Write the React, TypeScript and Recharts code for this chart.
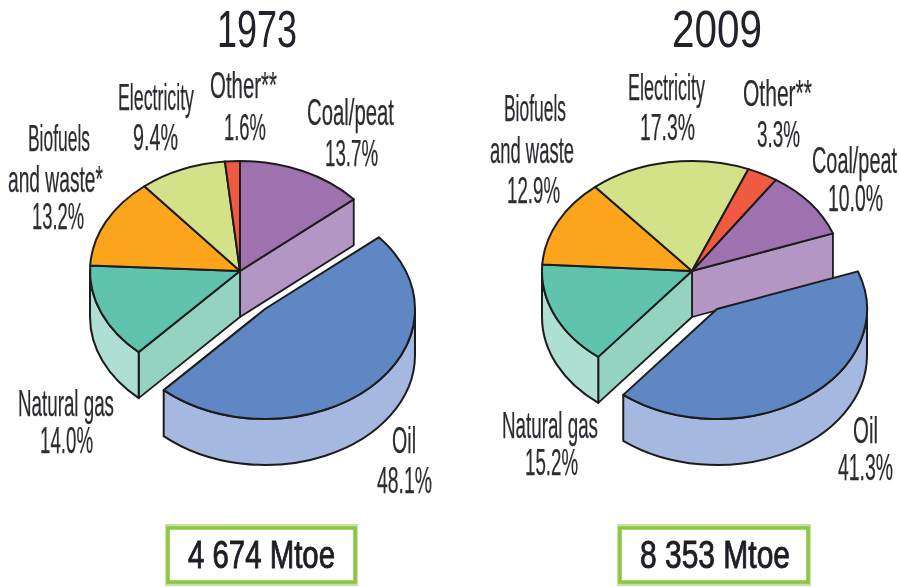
import React from 'react';
import { PieChart, Pie } from 'recharts';

const fuels = ['Coal/peat', 'Oil', 'Natural gas', 'Biofuels and waste', 'Electricity', 'Other'];
const shares1973 = [13.7, 48.1, 14.0, 13.2, 9.4, 1.6];
const shares2009 = [10.0, 41.3, 15.2, 12.9, 17.3, 3.3];
const totals = ['4 674 Mtoe', '8 353 Mtoe'];
const years = ['1973', '2009'];

const topColors: Record<string, string> = {
  'Coal/peat': '#9d72ae', Oil: '#5e87c3', 'Natural gas': '#5fc3ad',
  'Biofuels and waste': '#fca51c', Electricity: '#d3e288', Other: '#f05a40',
};
const wallColors: Record<string, string> = {
  'Coal/peat': '#b396c3', Oil: '#a5b8df', 'Natural gas': '#94d3c0',
  'Biofuels and waste': '#fcc56f', Electricity: '#e2eeb0', Other: '#f59a88',
};
const rimColors: Record<string, string> = { ...wallColors, 'Natural gas': '#addfd2' };

const data1973 = fuels.map((name, i) => ({ name, value: shares1973[i] }));
const data2009 = fuels.map((name, i) => ({ name, value: shares2009[i] }));

const SQUASH = 110 / 150;
const DEPTH = 46;
const INK = '#1c1c1c';
const RAD = Math.PI / 180;
const EXPLODE = { dx: 25, dy: 38 };

const point = (cx: number, cy: number, r: number, t: number, drop = 0) => ({
  x: cx + r * Math.cos(t * RAD),
  y: cy - r * SQUASH * Math.sin(t * RAD) + drop,
});
const f = (n: number) => n.toFixed(2);
const nameOf = (p: any) => p.name ?? p.payload?.name;

function centre(p: any) {
  const oil = nameOf(p) === 'Oil';
  return { cx: p.cx + (oil ? EXPLODE.dx : 0), cy: p.cy + (oil ? EXPLODE.dy : 0), oil };
}

function TopSlice(p: any) {
  const { cx, cy } = centre(p);
  const r = p.outerRadius;
  const a = point(cx, cy, r, p.startAngle);
  const b = point(cx, cy, r, p.endAngle);
  const large = Math.abs(p.startAngle - p.endAngle) > 180 ? 1 : 0;
  const d = `M${f(cx)} ${f(cy)}L${f(a.x)} ${f(a.y)}A${r} ${f(r * SQUASH)} 0 ${large} 1 ${f(b.x)} ${f(b.y)}Z`;
  return <path d={d} fill={topColors[nameOf(p)]} stroke={INK} strokeWidth={2} strokeLinejoin="round" />;
}

function WallSlice(p: any) {
  const { cx, cy } = centre(p);
  const r = p.outerRadius;
  const name = nameOf(p);
  const parts: React.ReactNode[] = [];
  // only the two cut faces left open by the exploded Oil slice can be seen
  const cut = name === 'Coal/peat' ? p.endAngle : name === 'Natural gas' ? p.startAngle : null;
  if (cut !== null) {
    const o = point(cx, cy, r, cut);
    parts.push(
      <path
        key="cut"
        d={`M${f(cx)} ${f(cy)}L${f(o.x)} ${f(o.y)}L${f(o.x)} ${f(o.y + DEPTH)}L${f(cx)} ${f(cy + DEPTH)}Z`}
        fill={wallColors[name]}
        stroke={INK}
        strokeWidth={1.8}
        strokeLinejoin="round"
      />,
    );
  }
  const hi = Math.min(p.startAngle, 0);
  const lo = Math.max(p.endAngle, -180);
  if (hi > lo) {
    const a = point(cx, cy, r, hi);
    const b = point(cx, cy, r, lo);
    const ry = f(r * SQUASH);
    parts.push(
      <path
        key="rim"
        d={`M${f(a.x)} ${f(a.y)}A${r} ${ry} 0 0 1 ${f(b.x)} ${f(b.y)}L${f(b.x)} ${f(b.y + DEPTH)}A${r} ${ry} 0 0 0 ${f(a.x)} ${f(a.y + DEPTH)}Z`}
        fill={rimColors[name]}
        stroke={INK}
        strokeWidth={2}
        strokeLinejoin="round"
      />,
    );
  }
  return <g>{parts}</g>;
}

const pct = (v: number) => `${v.toFixed(1)}%`;

type Placed = { text: string; x1: number; x2: number; y: number };
const labels: Placed[] = [
  { text: fuels[4], x1: 118, x2: 194, y: 110 },
  { text: pct(shares1973[4]), x1: 133, x2: 178, y: 150 },
  { text: 'Other**', x1: 210, x2: 277, y: 98 },
  { text: pct(shares1973[5]), x1: 224, x2: 266, y: 140 },
  { text: fuels[0], x1: 307, x2: 394, y: 125 },
  { text: pct(shares1973[0]), x1: 325, x2: 378, y: 166 },
  { text: 'Biofuels', x1: 28, x2: 90, y: 151 },
  { text: 'and waste*', x1: 8, x2: 103, y: 192 },
  { text: pct(shares1973[3]), x1: 32, x2: 84, y: 229 },
  { text: fuels[2], x1: 18, x2: 114, y: 416 },
  { text: pct(shares1973[2]), x1: 40, x2: 93, y: 453 },
  { text: fuels[1], x1: 392, x2: 416, y: 453 },
  { text: pct(shares1973[1]), x1: 377, x2: 432, y: 493 },

  { text: fuels[4], x1: 628, x2: 705, y: 100 },
  { text: pct(shares2009[4]), x1: 640, x2: 695, y: 140 },
  { text: 'Other**', x1: 743, x2: 812, y: 106 },
  { text: pct(shares2009[5]), x1: 757, x2: 800, y: 147 },
  { text: fuels[0], x1: 812, x2: 897, y: 173 },
  { text: pct(shares2009[0]), x1: 828, x2: 883, y: 211 },
  { text: 'Biofuels', x1: 504, x2: 566, y: 121 },
  { text: 'and waste', x1: 490, x2: 574, y: 163 },
  { text: pct(shares2009[3]), x1: 507, x2: 560, y: 203 },
  { text: fuels[2], x1: 502, x2: 598, y: 438 },
  { text: pct(shares2009[2]), x1: 525, x2: 578, y: 475 },
  { text: fuels[1], x1: 853, x2: 878, y: 443 },
  { text: pct(shares2009[1]), x1: 838, x2: 893, y: 480 },
];

const FONT = '"Liberation Sans Narrow", "Liberation Sans", Arial, sans-serif';

function Fit({ t, size, heavy, fill }: { t: Placed; size: number; heavy?: number; fill?: string }) {
  return (
    <text
      x={t.x1}
      y={t.y}
      fontSize={size}
      fontFamily={FONT}
      fill={fill ?? '#2b2b33'}
      stroke={heavy ? (fill ?? '#2b2b33') : 'none'}
      strokeWidth={heavy ?? 0}
      textLength={t.x2 - t.x1}
      lengthAdjust="spacingAndGlyphs"
    >
      {t.text}
    </text>
  );
}

function Box({ x, w, text, tx1, tx2 }: { x: number; w: number; text: string; tx1: number; tx2: number }) {
  return (
    <g>
      <rect x={x} y={527} width={w} height={56} fill="#fff" stroke="#c4e0a4" strokeWidth={6} />
      <rect x={x} y={528} width={w} height={54} fill="#fff" stroke="#8cc540" strokeWidth={3.5} />
      <Fit t={{ text, x1: tx1, x2: tx2, y: 568 }} size={38} heavy={0.9} fill="#1d1d26" />
    </g>
  );
}

export default function App() {
  const common = { dataKey: 'value', nameKey: 'name', cy: 271, outerRadius: 150, isAnimationActive: false, stroke: 'none' } as const;
  return (
    <div style={{ position: 'absolute', left: 0, top: 0, width: 899, height: 587, background: '#fff', filter: 'blur(0.6px)' }}>
      <PieChart width={899} height={587} margin={{ top: 0, right: 0, bottom: 0, left: 0 }}>
        <Pie {...common} data={data1973} cx={240} startAngle={90} endAngle={-270} shape={WallSlice} />
        <Pie {...common} data={data1973} cx={240} startAngle={90} endAngle={-270} shape={TopSlice} />
        <Pie {...common} data={data2009} cx={692} startAngle={56} endAngle={-304} shape={WallSlice} />
        <Pie {...common} data={data2009} cx={692} startAngle={56} endAngle={-304} shape={TopSlice} />
      </PieChart>
      <svg width={899} height={587} style={{ position: 'absolute', left: 0, top: 0, pointerEvents: 'none' }}>
        <Fit t={{ text: years[0], x1: 217, x2: 297, y: 47 }} size={51} fill="#22222c" />
        <Fit t={{ text: years[1], x1: 672, x2: 762, y: 47 }} size={51} fill="#22222c" />
        {labels.map((t, i) => (
          <Fit key={i} t={t} size={36} heavy={0.25} />
        ))}
        <Box x={168} w={187} text={totals[0]} tx1={188} tx2={335} />
        <Box x={620} w={188} text={totals[1]} tx1={640} tx2={790} />
      </svg>
    </div>
  );
}
